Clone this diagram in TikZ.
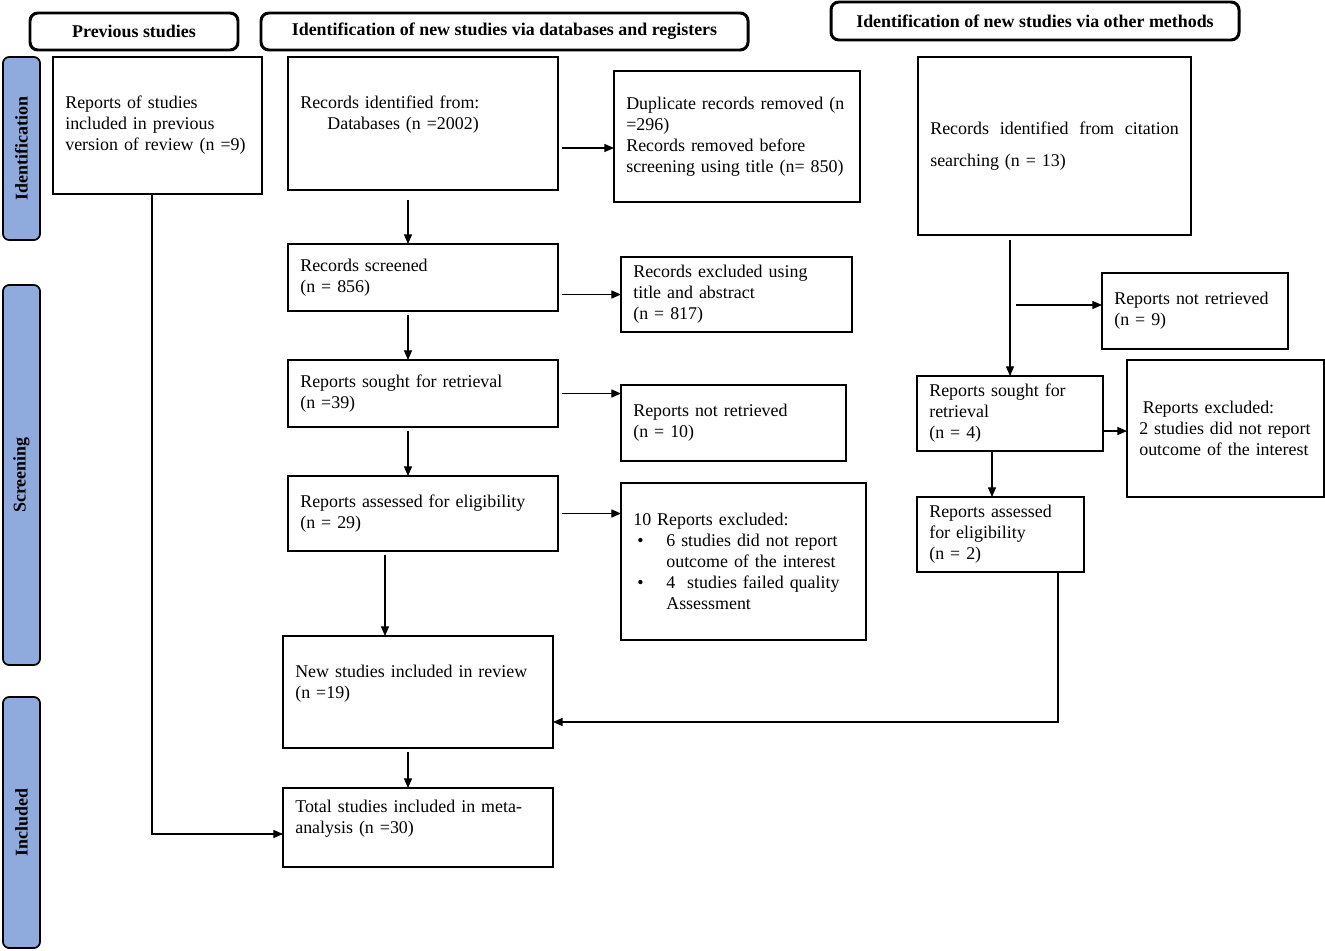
\documentclass[tikz,border=0pt]{standalone}
\usepackage{fontspec}
\setmainfont{Liberation Serif}
\usepackage{tikz}
\usetikzlibrary{arrows.meta,calc}
\definecolor{phaseblue}{HTML}{8FAADC}
\newcommand\prismafont{\fontsize{10.2}{11.9}\selectfont}
\tikzset{
 prisma box/.style 2 args={draw,line width=.8pt,align=left,inner xsep=7pt,inner ysep=2pt,
                    outer sep=0pt,minimum width=#1*.02cm,minimum height=#2*.02cm,
                    text width=#1*.02cm-14pt},
 prisma head/.style 2 args={draw,line width=1.7pt,rounded corners=4.5pt,inner sep=0pt,
                    font=\prismafont\bfseries,minimum width=#1*.02cm,minimum height=#2*.02cm},
 prisma phase/.style={draw,line width=1pt,rounded corners=3.5pt,fill=phaseblue,rotate=90,
                    inner sep=0pt,font=\prismafont\bfseries,minimum height=37*.02cm,
                    minimum width=#1*.02cm},
 prisma arrow/.style={->,line width=.6pt,shorten <=2pt}
}

\begin{document}
\begin{tikzpicture}[x=.02cm,y=-.02cm,font=\prismafont,>={Triangle[length=5.5pt,width=4.6pt]}]
 \useasboundingbox (0,0) rectangle (1325,950);

 \node[prisma head={208}{37}] (hprev) at (134,31.5) {Previous studies};
 \node[prisma head={487}{37}] (hdb) at (504.5,31.5)
   {Identification of new studies via databases and registers};
 \node[prisma head={408}{38}] (hoth) at (1035,21)
   {Identification of new studies via other methods};

 \node[prisma phase=183] (pid) at (21.5,148.5) {Identification};
 \node[prisma phase=380] (pscr) at (21.5,475) {Screening};
 \node[prisma phase=251] (pinc) at (21.5,822.5) {Included};

 \node[prisma box={209}{137}] (prev) at (157.5,125.5)
   {Reports of studies\\included in previous\\version of review (n =9)};
 \node[prisma box={270}{133}] (rec) at (423,123.5)
   {Records identified from:\\\hspace*{15.4pt}Databases (n =2002)\\\mbox{}};
 \node[prisma box={246}{131}] (dup) at (737,136.5)
   {Duplicate records removed (n\\=296)\\Records removed before\\screening using title (n= 850)};
 \node[prisma box={270}{67}] (scr) at (423,277.5) {Records screened\\(n = 856)};
 \node[prisma box={231}{75}] (exc1) at (736.5,294.5)
   {Records excluded using\\title and abstract\\(n = 817)};
 \node[prisma box={270}{67}] (sought) at (423,393.5) {Reports sought for retrieval\\(n =39)};
 \node[prisma box={225}{76}] (notret) at (733.5,423) {Reports not retrieved\\(n = 10)};
 \node[prisma box={270}{75}] (assess) at (423,513.5) {Reports assessed for eligibility\\(n = 29)};
 \node[prisma box={245}{157}] (excl10) at (743.5,561.5)
   {10 Reports excluded:\\
    \hspace*{2.3pt}\makebox[16.5pt][l]{\textbullet}6 studies did not report\\
    \hspace*{18.8pt}outcome of the interest\\
    \hspace*{2.3pt}\makebox[16.5pt][l]{\textbullet}4\ \ studies failed quality\\
    \hspace*{18.8pt}Assessment};
 \node[prisma box={270}{112}] (newinc) at (418,692)
   {New studies included in review\\(n =19)\\\mbox{}};
 \node[prisma box={270}{79}] (total) at (418,827.5)
   {Total studies included in meta-\\analysis (n =30)\\\mbox{}};

 \node[prisma box={273}{178}] (cit) at (1054.5,146)
   {Records\hfill identified\hfill from\hfill citation\\[6.3pt]searching (n = 13)};
 \node[prisma box={186}{76}] (notret2) at (1195,311) {Reports not retrieved\\(n = 9)};
 \node[prisma box={186}{75}] (sought2) at (1010,413.5) {Reports sought for\\retrieval\\(n = 4)};
 \node[prisma box={197}{137}] (excl2) at (1225.5,428.5)
   {\hspace*{2pt}Reports excluded:\\2 studies did not report\\outcome of the interest};
 \node[prisma box={167}{75}] (assess2) at (1000.5,534.5)
   {Reports assessed\\for eligibility\\(n = 2)};

 \coordinate (spine) at (408,0);
 \coordinate (spine2) at (385,0);
 \coordinate (spine3) at (992,0);
 \coordinate (back) at (1058,722);

 \draw[prisma arrow,shorten <=5.7pt] (rec.south -| spine) -- (scr.north -| spine);
 \draw[prisma arrow] ([yshift=-.49cm]rec.east) -- ([yshift=-.49cm]rec.east -| dup.west);
 \draw[prisma arrow] (scr.east |- exc1.west) -- (exc1.west);
 \draw[prisma arrow] (scr.south -| spine) -- (sought.north -| spine);
 \draw[prisma arrow] (sought.east) -- (notret.west |- sought.east);
 \draw[prisma arrow] (sought.south -| spine) -- (assess.north -| spine);
 \draw[prisma arrow] (assess.east) -- (excl10.west |- assess.east);
 \draw[prisma arrow] (assess.south -| spine2) -- (newinc.north -| spine2);
 \draw[prisma arrow] (newinc.south -| spine) -- (total.north -| spine);
 \draw[prisma arrow,shorten <=0pt] ([xshift=-.11cm]prev.south) |- ([yshift=-.13cm]total.west);

 \draw[prisma arrow,shorten <=2.8pt] (cit.south -| sought2.north) -- (sought2.north);
 \draw[prisma arrow,shorten <=3.4pt] ([yshift=.12cm]notret2.west -| sought2.north)
   -- ([yshift=.12cm]notret2.west);
 \draw[prisma arrow,shorten <=0pt] ([yshift=-.05cm]sought2.east |- excl2.west)
   -- ([yshift=-.05cm]excl2.west);
 \draw[prisma arrow,shorten <=0pt] (sought2.south -| spine3) -- (assess2.north -| spine3);
 \draw[prisma arrow,shorten <=0pt] (assess2.south -| back) -- (back) -- (newinc.east |- back);
\end{tikzpicture}
\end{document}
